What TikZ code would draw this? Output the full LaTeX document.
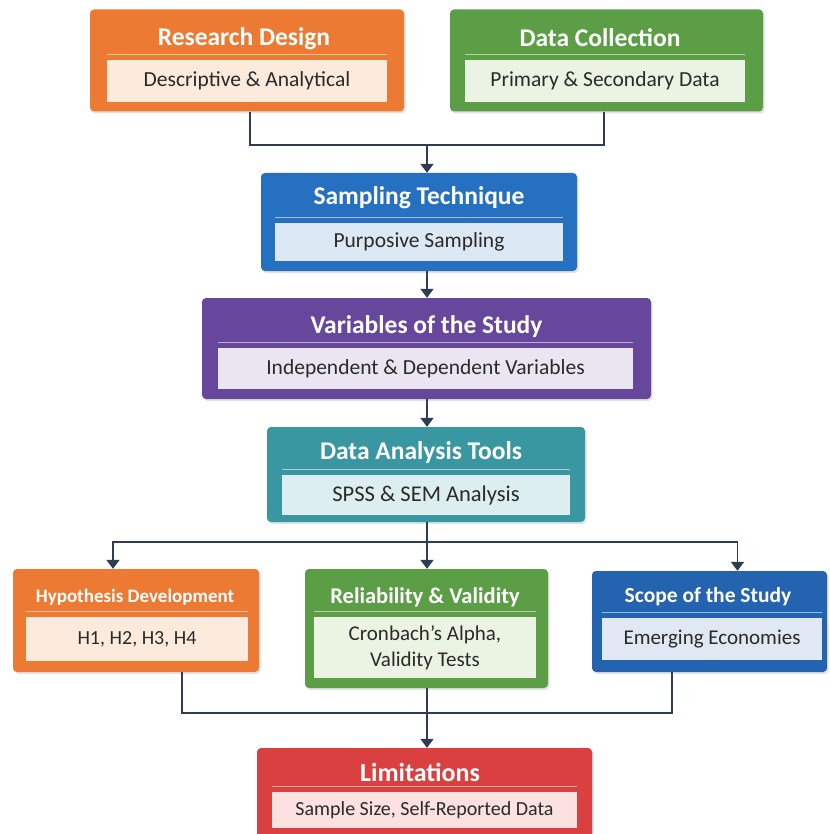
\documentclass[tikz,border=0pt]{standalone}
\usepackage{fontspec}
\setmainfont{Carlito}
\usetikzlibrary{arrows.meta,shadows}
\definecolor{orC}{HTML}{EC7A32}
\definecolor{orL}{HTML}{FCEBDC}
\definecolor{grC}{HTML}{5B9E46}
\definecolor{grL}{HTML}{EBF3E2}
\definecolor{blC}{HTML}{2570C0}
\definecolor{blL}{HTML}{DDE8F5}
\definecolor{puC}{HTML}{67479C}
\definecolor{puL}{HTML}{EBE5F2}
\definecolor{teC}{HTML}{3997A2}
\definecolor{teL}{HTML}{DDEEF0}
\definecolor{sbC}{HTML}{2363AF}
\definecolor{sbL}{HTML}{DFE8F3}
\definecolor{reC}{HTML}{D9403F}
\definecolor{reL}{HTML}{FBE1E0}
\definecolor{lnC}{HTML}{2F3D52}
\definecolor{txC}{HTML}{2A2A2A}
\newcommand{\fsz}[1]{\fontsize{#1}{#1}\selectfont}
\tikzset{
  outer/.style={draw=none, rounded corners=4pt, inner sep=0pt,
    drop shadow={opacity=0.22, shadow xshift=1.5pt, shadow yshift=-2pt}},
  titletxt/.style={text=white, font=\fsz{25.5}\bfseries, inner sep=0pt},
  innerbox/.style={draw=none, inner sep=0pt, text=txC, align=center,
    font=\fsz{21.5}},
  sepline/.style={draw=white, opacity=0.55, line width=1.2pt},
  conn/.style={draw=lnC, line width=1.8pt},
  arr/.style={conn, -{Triangle[width=13pt,length=9pt]}}
}
\begin{document}
\begin{tikzpicture}[x=1pt,y=-1pt]
\useasboundingbox (0,0) rectangle (829,834);
\fill[white] (0,0) rectangle (829,834);

% Research Design
\node[outer, fill=orC, minimum width=314pt, minimum height=102pt] (rd) at (247,60.5) {};
\node[titletxt] (rdT) at (244,39) {Research Design};
\node[innerbox, fill=orL, minimum width=280pt, minimum height=42pt] (rdI) at (247,81) {Descriptive \& Analytical};
\draw[sepline] ([yshift=5pt]rdI.north west) -- ([yshift=5pt]rdI.north east);

% Data Collection
\node[outer, fill=grC, minimum width=313pt, minimum height=102pt] (dc) at (606.5,60.5) {};
\node[titletxt] (dcT) at (600,38) {Data Collection};
\node[innerbox, fill=grL, minimum width=280pt, minimum height=42pt] (dcI) at (605,81) {Primary \& Secondary Data};
\draw[sepline] ([yshift=5pt]dcI.north west) -- ([yshift=5pt]dcI.north east);

% Sampling Technique
\node[outer, fill=blC, minimum width=316pt, minimum height=98pt] (st) at (419,222) {};
\node[titletxt] (stT) at (419,198) {Sampling Technique};
\node[innerbox, fill=blL, minimum width=288pt, minimum height=38pt] (stI) at (419,242) {Purposive Sampling};
\draw[sepline] ([yshift=5pt]stI.north west) -- ([yshift=5pt]stI.north east);

% Variables of the Study
\node[outer, fill=puC, minimum width=449pt, minimum height=101pt] (vs) at (426.5,348.5) {};
\node[titletxt] (vsT) at (426.5,327) {Variables of the Study};
\node[innerbox, fill=puL, minimum width=415pt, minimum height=41pt] (vsI) at (425.5,368.5) {Independent \& Dependent Variables};
\draw[sepline] ([yshift=5pt]vsI.north west) -- ([yshift=5pt]vsI.north east);

% Data Analysis Tools
\node[outer, fill=teC, minimum width=318pt, minimum height=95pt] (da) at (426,474.5) {};
\node[titletxt] (daT) at (421,453) {Data Analysis Tools};
\node[innerbox, fill=teL, minimum width=288pt, minimum height=40pt, font=\fsz{22.5}] (daI) at (426,495) {SPSS \& SEM Analysis};
\draw[sepline] ([yshift=5pt]daI.north west) -- ([yshift=5pt]daI.north east);

% Hypothesis Development
\node[outer, fill=orC, minimum width=246pt, minimum height=103pt] (hd) at (136,620.5) {};
\node[titletxt, font=\fsz{19}\bfseries] (hdT) at (135,597) {Hypothesis Development};
\node[innerbox, fill=orL, minimum width=222pt, minimum height=44pt, font=\fsz{20}] (hdI) at (137,639) {H1, H2, H3, H4};
\draw[sepline] ([yshift=5pt]hdI.north west) -- ([yshift=5pt]hdI.north east);

% Reliability & Validity
\node[outer, fill=grC, minimum width=243pt, minimum height=119pt] (rv) at (426.5,628.5) {};
\node[titletxt, font=\fsz{22.5}\bfseries] (rvT) at (425,597) {Reliability \& Validity};
\node[innerbox, fill=grL, minimum width=222pt, minimum height=61pt, font=\fontsize{21}{26}\selectfont] (rvI) at (425,647.5) {Cronbach{\char"0027}s Alpha,\\Validity Tests};
\draw[sepline] ([yshift=5pt]rvI.north west) -- ([yshift=5pt]rvI.north east);

% Scope of the Study
\node[outer, fill=sbC, minimum width=235pt, minimum height=101pt] (sc) at (709.5,621.5) {};
\node[titletxt, font=\fsz{21.5}\bfseries] (scT) at (708,597) {Scope of the Study};
\node[innerbox, fill=sbL, minimum width=220pt, minimum height=42pt, font=\fsz{21}] (scI) at (712,639) {Emerging Economies};
\draw[sepline] ([yshift=5pt]scI.north west) -- ([yshift=5pt]scI.north east);

% Limitations
\node[outer, fill=reC, minimum width=335pt, minimum height=100pt] (lm) at (424.5,798) {};
\node[titletxt, font=\fsz{26}\bfseries] (lmT) at (420,772) {Limitations};
\node[innerbox, fill=reL, minimum width=305pt, minimum height=36pt, font=\fsz{20}] (lmI) at (424.5,810) {Sample Size, Self-Reported Data};
\draw[sepline] ([yshift=5pt]lmI.north west) -- ([yshift=5pt]lmI.north east);

% junction coordinates
\coordinate (j1) at (427,145);
\coordinate (j2) at (427,542);
\coordinate (j3) at (427,713);

% Connectors
\draw[conn] (rd.south -| 250,0) |- (j1);
\draw[conn] (dc.south -| 604,0) |- (j1);
\draw[arr] (j1) -- (st.north -| j1);
\draw[arr] (st.south -| j1) -- (vs.north -| j1);
\draw[arr] (vs.south -| j1) -- (da.north -| j1);
\draw[conn] (da.south -| j2) -- (j2);
\draw[arr] (j2) -| ([xshift=-23pt]hd.north);
\draw[arr] (j2) -- (rv.north -| j2);
\draw[arr] (j2) -| ([xshift=28pt]sc.north);
\draw[conn] (hd.south -| 182,0) |- (j3);
\draw[conn] (sc.south -| 672,0) |- (j3);
\draw[arr] (rv.south -| j3) -- (lm.north -| j3);
\end{tikzpicture}
\end{document}
